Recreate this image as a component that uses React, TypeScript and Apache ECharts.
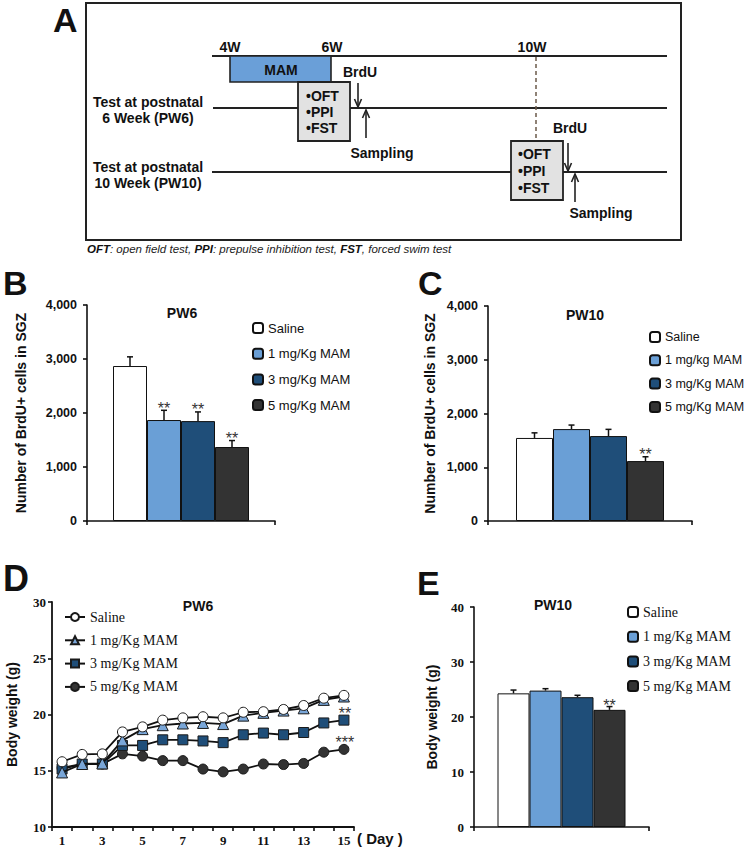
import React, { useEffect, useRef } from "react";
import * as echarts from "echarts";

const PAGE_W = 747;
const PAGE_H = 853;

// ---------------- Panel B: BrdU+ cells, PW6 ----------------
const bGroups = ["Saline", "1 mg/Kg MAM", "3 mg/Kg MAM", "5 mg/Kg MAM"];
const bMeans = [2870, 1870, 1850, 1370];
const bErrors = [170, 180, 170, 120];
const bStars = ["", "**", "**", "**"];
const bTicks = [0, 1000, 2000, 3000, 4000];

// ---------------- Panel C: BrdU+ cells, PW10 ----------------
const cGroups = ["Saline", "1 mg/kg MAM", "3 mg/Kg MAM", "5 mg/Kg MAM"];
const cMeans = [1545, 1710, 1580, 1115];
const cErrors = [95, 75, 125, 80];
const cStars = ["", "", "", "**"];
const cTicks = [0, 1000, 2000, 3000, 4000];

// ---------------- Panel D: body weight over days, PW6 ----------------
const dDays = ["1", "2", "3", "4", "5", "6", "7", "8", "9", "10", "11", "12", "13", "14", "15"];
const dGroups = ["Saline", "1 mg/Kg MAM", "3 mg/Kg MAM", "5 mg/Kg MAM"];
const dSaline = [15.8, 16.45, 16.5, 18.45, 18.9, 19.5, 19.7, 19.8, 19.7, 20.2, 20.25, 20.45, 20.8, 21.45, 21.7];
const dMam1 = [14.85, 15.6, 15.65, 17.7, 18.7, 19.05, 19.2, 19.25, 19.15, 19.9, 20.15, 20.35, 20.55, 21.3, 21.6];
const dMam3 = [15.15, 15.6, 15.6, 17.25, 17.25, 17.75, 17.75, 17.65, 17.5, 18.2, 18.35, 18.2, 18.4, 19.25, 19.5];
const dMam5 = [15.25, 15.6, 15.6, 16.5, 16.3, 15.9, 15.9, 15.15, 14.9, 15.15, 15.6, 15.55, 15.65, 16.65, 16.9];
const dStarsLastDay = ["", "", "**", "***"];
const dTicks = [10, 15, 20, 25, 30];

// ---------------- Panel E: body weight, PW10 ----------------
const eGroups = ["Saline", "1 mg/Kg MAM", "3 mg/Kg MAM", "5 mg/Kg MAM"];
const eMeans = [24.3, 24.8, 23.6, 21.3];
const eErrors = [0.6, 0.35, 0.35, 0.6];
const eStars = ["", "", "", "**"];
const eTicks = [0, 10, 20, 30, 40];

// ---------------- styles ----------------
const SANS = '"Liberation Sans", Arial, sans-serif';
const NARROW = '"Liberation Sans Narrow", "Liberation Sans", Arial, sans-serif';
const SERIF = '"Liberation Serif", "Times New Roman", serif';
const INK = "#111";
const FILLS = ["#ffffff", "#6a9fd6", "#1f4e79", "#333333"];
const MARKERS = ["circle", "triangle", "rect", "circle"];
const MARKER_SIZES = [10, 11, 10, 10];

function gText(x: number, y: number, text: string, o: any = {}) {
  const align = o.align || "left";
  return {
    type: "text",
    x,
    y,
    silent: true,
    scaleX: o.scaleX || 1,
    style: {
      text,
      fill: o.fill || INK,
      fontSize: o.size || 14,
      fontWeight: o.weight || "bold",
      fontStyle: o.style || "normal",
      fontFamily: o.family || SANS,
      textAlign: align,
      align,
      textVerticalAlign: "middle",
      verticalAlign: "middle",
    },
  };
}

function gLine(x1: number, y1: number, x2: number, y2: number, w = 2, extra: any = {}) {
  return {
    type: "line",
    silent: true,
    shape: { x1, y1, x2, y2 },
    style: { stroke: extra.stroke || "#222", lineWidth: w, lineDash: extra.dash || null },
  };
}

function arrow(x: number, yFrom: number, yTo: number) {
  const dir = yTo > yFrom ? 1 : -1;
  return [
    gLine(x, yFrom, x, yTo, 1.6),
    {
      type: "polyline",
      silent: true,
      shape: { points: [[x - 3.5, yTo - dir * 8], [x, yTo], [x + 3.5, yTo - dir * 8]] },
      style: { stroke: "#222", lineWidth: 1.6, fill: "none" },
    },
  ];
}

function boxWithTests(x: number, y: number, w: number, h: number, textX: number, ys: number[]) {
  return [
    {
      type: "rect",
      silent: true,
      shape: { x, y, width: w, height: h },
      style: { fill: "#e2e2e2", stroke: "#222", lineWidth: 1.8 },
    },
    gText(textX, ys[0], "•OFT"),
    gText(textX, ys[1], "•PPI"),
    gText(textX, ys[2], "•FST"),
  ];
}

function panelAOption() {
  const els: any[] = [
    gText(53, 20, "A", { size: 34 }),
    {
      type: "rect",
      silent: true,
      shape: { x: 86, y: 3, width: 595, height: 237 },
      style: { fill: "none", stroke: "#222", lineWidth: 2 },
    },
    gLine(212, 56, 667, 56),
    gLine(213, 108, 667, 108),
    gLine(212, 172, 667, 172),
    gText(230, 47, "4W", { align: "center" }),
    gText(332, 47, "6W", { align: "center" }),
    gText(532, 47, "10W", { align: "center" }),
    {
      type: "rect",
      silent: true,
      shape: { x: 230, y: 56, width: 101, height: 26 },
      style: { fill: "#6a9fd8", stroke: "#222", lineWidth: 1.6 },
    },
    gText(281, 70, "MAM", { align: "center" }),
    gText(148, 102, "Test at postnatal", { align: "center" }),
    gText(148, 118, "6 Week (PW6)", { align: "center" }),
    gText(148, 167, "Test at postnatal", { align: "center" }),
    gText(148, 183, "10 Week (PW10)", { align: "center" }),
    gLine(536, 57, 536, 141, 1.5, { stroke: "#6b5a4a", dash: [4, 3] }),
    ...boxWithTests(298, 82, 52, 59, 306, [96, 112, 128]),
    gText(343, 72, "BrdU"),
    ...arrow(358, 83, 107),
    ...arrow(366, 138, 110),
    gText(382, 153, "Sampling", { align: "center" }),
    ...boxWithTests(511, 141, 52, 59, 518, [154, 171, 188]),
    gText(553, 128, "BrdU"),
    ...arrow(568, 143, 171),
    ...arrow(575, 202, 174),
    gText(601, 213, "Sampling", { align: "center" }),
    {
      type: "text",
      x: 87,
      y: 249,
      silent: true,
      style: {
        text:
          "{b|OFT}{n|: open field test, }{b|PPI}{n|: prepulse inhibition test, }{b|FST}{n|, forced swim test}",
        textVerticalAlign: "middle",
        verticalAlign: "middle",
        rich: {
          b: { fontStyle: "italic", fontWeight: "bold", fontSize: 11.5, fontFamily: SANS, fill: INK, color: INK },
          n: { fontStyle: "italic", fontWeight: "normal", fontSize: 11.5, fontFamily: SANS, fill: "#222", color: "#222" },
        },
      },
    },
  ];
  return { animation: false, graphic: els };
}

function errorSeries(means: number[], errors: number[], stars: string[], barWidth: number, starDy: number) {
  return {
    type: "custom",
    silent: true,
    z: 4,
    data: means.map((m, i) => [0, m, errors[i], i]),
    encode: { x: 0, y: 1 },
    renderItem: (_params: any, api: any) => {
      const m = api.value(1);
      const e = api.value(2);
      const i = api.value(3);
      const base = api.coord([0, m]);
      const top = api.coord([0, m + e]);
      const x = base[0] + (i - 1.5) * barWidth;
      const children: any[] = [
        { type: "line", shape: { x1: x, y1: base[1], x2: x, y2: top[1] }, style: { stroke: INK, lineWidth: 1.5 } },
        { type: "line", shape: { x1: x - 3, y1: top[1], x2: x + 3, y2: top[1] }, style: { stroke: INK, lineWidth: 1.5 } },
      ];
      if (stars[i]) {
        children.push({
          type: "text",
          x,
          y: top[1] + starDy,
          style: {
            text: stars[i],
            fill: "#333",
            fontSize: 16,
            fontFamily: SANS,
            textAlign: "center",
            align: "center",
            textVerticalAlign: "bottom",
            verticalAlign: "bottom",
          },
        });
      }
      return { type: "group", children };
    },
  };
}

function barPanelOption(c: any) {
  const series: any[] = c.names.map((n: string, i: number) => ({
    type: "bar",
    name: n,
    data: [c.means[i]],
    barWidth: c.barWidth,
    barGap: "0%",
    z: 2,
    itemStyle: { color: FILLS[i], borderColor: INK, borderWidth: 1 },
    emphasis: { disabled: true },
  }));
  series.push(errorSeries(c.means, c.errors, c.stars, c.barWidth, c.starDy));
  const axisLine = { show: true, lineStyle: { color: INK, width: 1.6 } };
  const axisTick = { show: true, length: 4, lineStyle: { color: INK, width: 1.6 } };
  return {
    animation: false,
    graphic: [
      gText(c.letter[1], c.letter[2], c.letter[0], { size: 34 }),
      gText(c.title[1], c.title[2], c.title[0], { align: "center", size: 14 }),
    ],
    legend: {
      orient: "vertical",
      left: c.legend.left,
      top: c.legend.top,
      itemWidth: 10,
      itemHeight: 10,
      itemGap: c.legend.gap,
      padding: 0,
      selectedMode: false,
      data: c.names,
      textStyle: { fontFamily: c.legend.family, fontSize: c.legend.size, color: INK, lineHeight: 14 },
    },
    grid: c.grid,
    xAxis: {
      type: "category",
      data: [""],
      axisLine,
      axisTick,
      axisLabel: { show: false },
      splitLine: { show: false },
    },
    yAxis: {
      type: "value",
      min: c.ticks[0],
      max: c.ticks[c.ticks.length - 1],
      interval: c.ticks[1] - c.ticks[0],
      axisLine,
      axisTick,
      splitLine: { show: false },
      axisLabel: {
        color: INK,
        fontFamily: c.tick.family,
        fontSize: c.tick.size,
        fontWeight: "bold",
        margin: c.tick.margin,
        formatter: (v: number) => v.toLocaleString("en-US"),
      },
      name: c.yName,
      nameLocation: "middle",
      nameGap: c.yNameGap,
      nameRotate: 90,
      nameTextStyle: { fontFamily: SANS, fontSize: 14, fontWeight: "bold", color: INK },
    },
    series,
  };
}

function panelDOption() {
  const values = [dSaline, dMam1, dMam3, dMam5];
  const last = dDays.length - 1;
  const series = [3, 2, 1, 0].map((i) => ({
    type: "line",
    name: dGroups[i],
    symbol: MARKERS[i],
    symbolSize: MARKER_SIZES[i],
    z: 2 + (3 - i),
    lineStyle: { color: INK, width: 1.8 },
    itemStyle: { color: FILLS[i] === "#6a9fd6" ? "#79a6d8" : FILLS[i], borderColor: "#1a1a1a", borderWidth: 1 },
    emphasis: { disabled: true },
    data: values[i].map((v, k) =>
      k === last && dStarsLastDay[i]
        ? {
            value: v,
            label: {
              show: true,
              position: "top",
              distance: 0,
              offset: [1, 7],
              formatter: dStarsLastDay[i],
              color: "#333",
              fontSize: 16,
              fontFamily: SANS,
            },
          }
        : v
    ),
  }));
  const axisLine = { show: true, lineStyle: { color: INK, width: 1.8 } };
  const axisTick = { show: true, length: 4, lineStyle: { color: INK, width: 1.6 } };
  return {
    animation: false,
    graphic: [
      gText(3, 578, "D", { size: 36 }),
      gText(198, 606, "PW6", { align: "center", size: 14 }),
      gText(357, 838, "( Day )", { size: 15 }),
    ],
    legend: {
      orient: "vertical",
      left: 64,
      top: 610,
      itemWidth: 20,
      itemHeight: 10,
      itemGap: 9.3,
      padding: 0,
      selectedMode: false,
      data: dGroups,
      textStyle: { fontFamily: SERIF, fontSize: 14, color: INK, lineHeight: 14 },
    },
    grid: { left: 52, top: 602, width: 302, height: 225 },
    xAxis: {
      type: "category",
      data: dDays,
      boundaryGap: true,
      axisLine,
      axisTick: { ...axisTick, interval: 0 },
      axisLabel: { interval: 1, color: INK, fontFamily: SERIF, fontWeight: "bold", fontSize: 13, margin: 7 },
      splitLine: { show: false },
    },
    yAxis: {
      type: "value",
      min: dTicks[0],
      max: dTicks[dTicks.length - 1],
      interval: dTicks[1] - dTicks[0],
      axisLine,
      axisTick,
      splitLine: { show: false },
      axisLabel: { color: INK, fontFamily: SERIF, fontWeight: "bold", fontSize: 13, margin: 6 },
      name: "Body weight (g)",
      nameLocation: "middle",
      nameGap: 33,
      nameRotate: 90,
      nameTextStyle: { fontFamily: SANS, fontSize: 14, fontWeight: "bold", color: INK },
    },
    series,
  };
}

const optionB = () =>
  barPanelOption({
    names: bGroups,
    means: bMeans,
    errors: bErrors,
    stars: bStars,
    ticks: bTicks,
    barWidth: 34,
    starDy: 6,
    letter: ["B", 3, 283],
    title: ["PW6", 182, 313],
    legend: { left: 252, top: 321, gap: 11.7, family: SANS, size: 13 },
    grid: { left: 87, top: 305, width: 188, height: 216 },
    tick: { family: NARROW, size: 12.5, margin: 10 },
    yName: "Number of BrdU+ cells in SGZ",
    yNameGap: 59,
  });

const optionC = () =>
  barPanelOption({
    names: cGroups,
    means: cMeans,
    errors: cErrors,
    stars: cStars,
    ticks: cTicks,
    barWidth: 37,
    starDy: 6,
    letter: ["C", 418, 283],
    title: ["PW10", 585, 315],
    legend: { left: 649, top: 330, gap: 9.3, family: SANS, size: 12.5 },
    grid: { left: 488, top: 306, width: 204, height: 215 },
    tick: { family: NARROW, size: 12.5, margin: 10 },
    yName: "Number of BrdU+ cells in SGZ",
    yNameGap: 51,
  });

const optionE = () =>
  barPanelOption({
    names: eGroups,
    means: eMeans,
    errors: eErrors,
    stars: eStars,
    ticks: eTicks,
    barWidth: 32,
    starDy: 7,
    letter: ["E", 417, 583],
    title: ["PW10", 553, 605],
    legend: { left: 627, top: 605, gap: 10.7, family: SERIF, size: 14 },
    grid: { left: 474, top: 607, width: 175, height: 220 },
    tick: { family: SERIF, size: 13, margin: 10 },
    yName: "Body weight (g)",
    yNameGap: 35,
  });

export default function App() {
  const refs = useRef<(HTMLDivElement | null)[]>([]);

  useEffect(() => {
    document.body.style.margin = "0";
    document.body.style.overflow = "hidden";
    const options = [panelAOption(), optionB(), optionC(), panelDOption(), optionE()];
    const charts = options.map((opt, i) => {
      const el = refs.current[i] as HTMLDivElement;
      const chart = echarts.init(el, null, { renderer: "svg", width: PAGE_W, height: PAGE_H });
      chart.setOption(opt as any);
      return chart;
    });
    return () => charts.forEach((c) => c.dispose());
  }, []);

  return (
    <div style={{ position: "relative", width: PAGE_W, height: PAGE_H, background: "#fff", overflow: "hidden" }}>
      {[0, 1, 2, 3, 4].map((i) => (
        <div
          key={i}
          ref={(el) => {
            refs.current[i] = el;
          }}
          style={{ position: "absolute", left: 0, top: 0, width: PAGE_W, height: PAGE_H }}
        />
      ))}
    </div>
  );
}
